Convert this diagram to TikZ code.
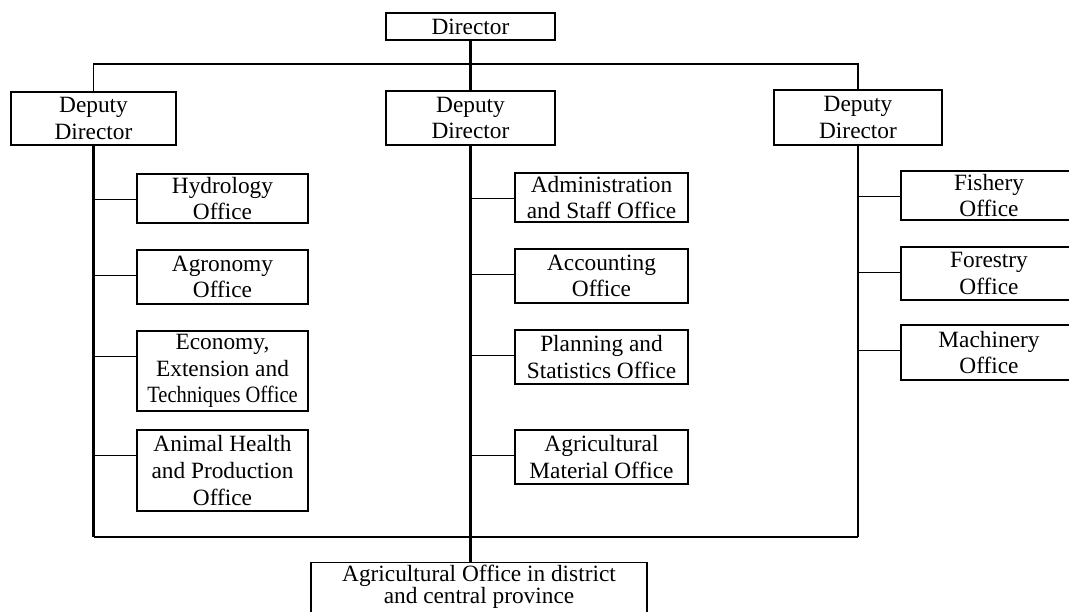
\documentclass[tikz,border=0pt]{standalone}
\usepackage{fontspec}
\setmainfont{Liberation Serif}
\usetikzlibrary{calc}
\begin{document}
\begin{tikzpicture}[x=0.75pt,y=-0.75pt,
  unit/.style={draw=black, line width=0.9pt, align=center, inner sep=0pt,
    font=\fontsize{17.5}{20}\selectfont},
  spine/.style={draw=black, line width=1.7pt},
  bus/.style={draw=black, line width=1pt},
  link/.style={draw=black, line width=0.9pt}]
\useasboundingbox (0,0) rectangle (1069,611);
\clip (0,0) rectangle (1069,611);

% top level
\node[unit, minimum width=126.75pt, minimum height=20.25pt] (dir) at (470.5,26.5) {Director};

% deputy directors
\node[unit, minimum width=123.75pt, minimum height=39.75pt] (ldep) at (93.5,118.5) {Deputy\\Director};
\node[unit, minimum width=126.75pt, minimum height=40.5pt]  (mdep) at (470.5,118) {Deputy\\Director};
\node[unit, minimum width=126pt,    minimum height=41.25pt] (rdep) at (858,117.5) {Deputy\\Director};

% offices under the first deputy
\node[unit, minimum width=128.25pt, minimum height=36.75pt] (hyd) at (222.5,198.5) {Hydrology\\Office};
\node[unit, minimum width=128.25pt, minimum height=40.5pt]  (agr) at (222.5,277) {Agronomy\\Office};
\node[unit, minimum width=128.25pt, minimum height=60pt]    (eco) at (222.5,371) {Economy,\\Extension and\\\scalebox{0.88}[1]{Techniques Office}};
\node[unit, minimum width=128.25pt, minimum height=60.75pt] (ani) at (222.5,470.5) {Animal Health\\and Production\\Office};

% offices under the second deputy
\node[unit, minimum width=129.75pt, minimum height=36.75pt] (adm) at (601.5,197.5) {Administration\\and Staff Office};
\node[unit, minimum width=129.75pt, minimum height=40.5pt]  (acc) at (601.5,276) {Accounting\\Office};
\node[unit, minimum width=129.75pt, minimum height=40.5pt]  (pla) at (601.5,357) {Planning and\\Statistics Office};
\node[unit, minimum width=129.75pt, minimum height=40.5pt]  (agm) at (601.5,457) {Agricultural\\Material Office};

% offices under the third deputy
\node[unit, minimum width=132pt, minimum height=36.75pt] (fis) at (989,195.5) {Fishery\\Office};
\node[unit, minimum width=132pt, minimum height=39.75pt] (for) at (989,273.5) {Forestry\\Office};
\node[unit, minimum width=132pt, minimum height=41.25pt] (mac) at (989,352.5) {Machinery\\Office};

% district level: text sits high, box runs past the lower edge
\node[unit, anchor=north, minimum width=252pt, inner ysep=2.2pt, text depth=10pt,
      font=\fontsize{17.5}{16.5}\selectfont] (bot) at (479,562) {Agricultural Office in district\\and central province};

% bus levels
\coordinate (topbus) at (0,64);
\coordinate (lowbus) at (0,537);

% director to deputies
\draw[spine] (dir.south) -- (mdep.north);
\draw[bus] (ldep.north) -- (ldep.north |- topbus) -- (rdep.north |- topbus) -- (rdep.north);

% deputies' spines and the lower bus
\draw[spine] (ldep.south) -- (ldep.south |- lowbus);
\draw[spine] (rdep.south) -- (rdep.south |- lowbus);
\draw[bus] (ldep.south |- lowbus) -- (rdep.south |- lowbus);
\draw[spine] (mdep.south) -- (mdep.south |- bot.north);

% office links
\foreach \o/\d in {hyd/ldep, agr/ldep, eco/ldep, ani/ldep,
                   adm/mdep, acc/mdep, pla/mdep, agm/mdep,
                   fis/rdep, for/rdep, mac/rdep}{
  \draw[link] ([yshift=-19.5pt]\o.north west) coordinate (tap) -- (tap -| \d.south);
}
\end{tikzpicture}
\end{document}
